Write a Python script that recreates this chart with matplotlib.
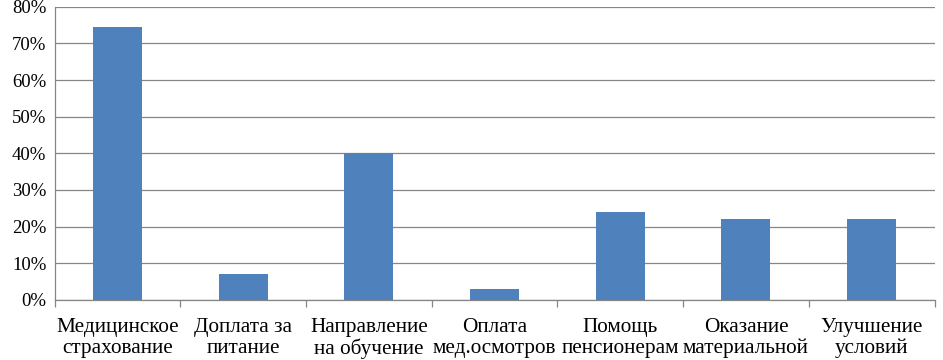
import matplotlib.pyplot as plt
import numpy as np
from matplotlib.ticker import PercentFormatter, FixedLocator

categories = ['Медицинское\nстрахование', 'Доплата за\nпитание', 'Направление\nна обучение',
              'Оплата\nмед.осмотров', 'Помощь\nпенсионерам', 'Оказание\nматериальной',
              'Улучшение\nусловий']
values = [74.5, 7, 40, 3, 24, 22, 22]

plt.rcParams['font.family'] = ['Liberation Serif', 'DejaVu Serif']

fig = plt.figure(figsize=(9.43, 3.6), dpi=100)
ax = fig.add_axes([0.058, 0.167, 0.933, 0.814])

x = np.arange(len(categories))
ax.bar(x, values, width=0.39, color='#4F81BD', zorder=3)

ax.set_xlim(-0.5, len(categories) - 0.5)
ax.set_ylim(0, 80)
ax.set_yticks(np.arange(0, 81, 10))
ax.yaxis.set_major_formatter(PercentFormatter(decimals=0))
ax.grid(axis='y', color='#868686', linewidth=0.9, zorder=0)

ax.set_xticks(x)
ax.set_xticklabels(categories, fontsize=15.3, linespacing=1.12)
ax.xaxis.set_minor_locator(FixedLocator(np.arange(-0.5, len(categories), 1)))
ax.tick_params(axis='x', which='major', length=0, pad=13)
ax.tick_params(axis='x', which='minor', length=5, color='#868686', width=0.9)
ax.tick_params(axis='y', length=0, labelsize=13.5, pad=6)

for s in ['top', 'right']:
    ax.spines[s].set_visible(False)
for s in ['left', 'bottom']:
    ax.spines[s].set_color('#868686')
    ax.spines[s].set_linewidth(0.9)

fig.savefig('out.png', dpi=100)
